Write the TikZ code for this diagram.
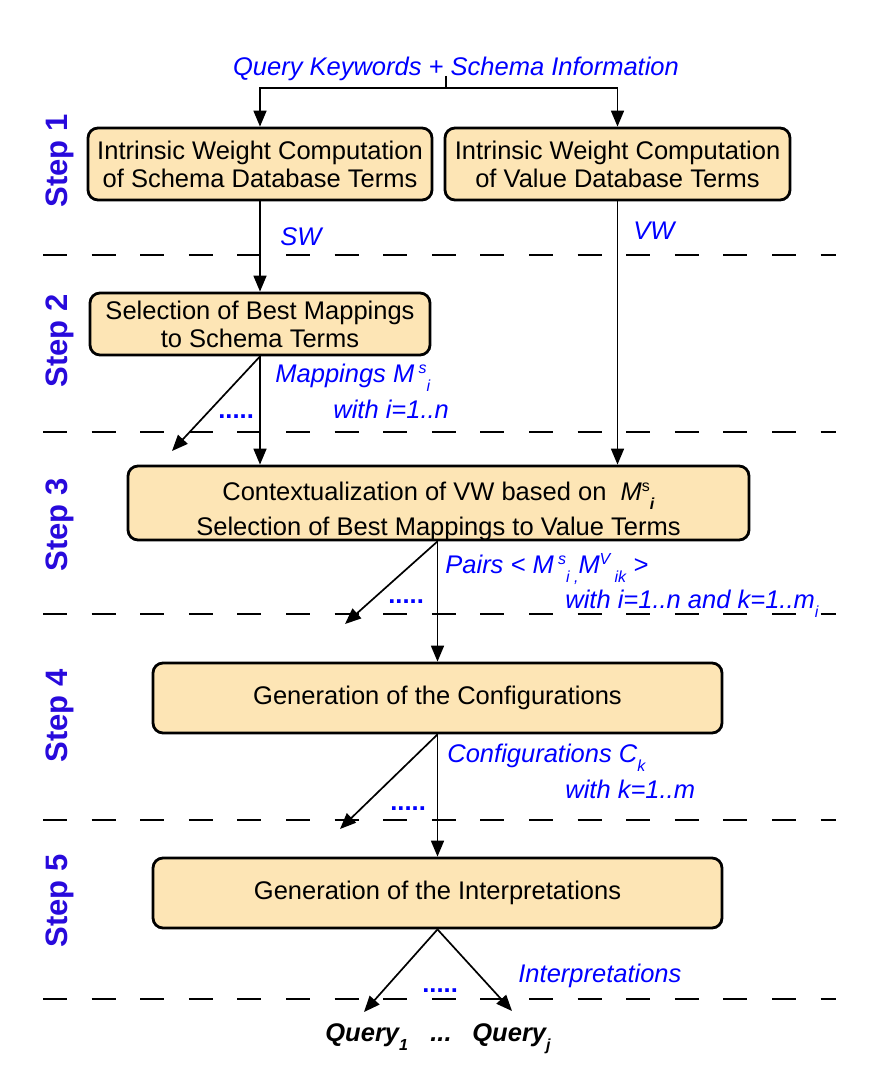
\documentclass[tikz,border=0pt]{standalone}
\usepackage{fontspec}
\setmainfont{Liberation Sans}
\usetikzlibrary{arrows.meta}
\definecolor{boxfill}{RGB}{253,229,181}
\definecolor{stepblue}{RGB}{40,10,220}
\definecolor{lblblue}{RGB}{0,0,255}
\newcommand{\mysb}[1]{\raisebox{-4.5pt}{\fontsize{8}{8}\selectfont #1}}
\newcommand{\mysp}[1]{\raisebox{4.5pt}{\fontsize{8}{8}\selectfont #1}}
\begin{document}
\begin{tikzpicture}[x=0.5pt,y=-0.5pt,
 box/.style={draw, line width=1.4pt, rounded corners=5pt, fill=boxfill, align=center, inner sep=0pt, font=\fontsize{12.75}{14}\selectfont},
 boxtext/.style={align=center, inner sep=0pt, font=\fontsize{12.75}{14}\selectfont},
 steplbl/.style={rotate=90, text=stepblue, font=\fontsize{15.5}{16}\selectfont\bfseries},
 lbl/.style={text=lblblue, font=\fontsize{12.75}{14}\selectfont\itshape, anchor=base west, inner sep=0pt},
 dotlbl/.style={text=lblblue, font=\fontsize{12.75}{14}\selectfont\bfseries, anchor=base west, inner sep=0pt},
 qlbl/.style={font=\fontsize{12.75}{14}\selectfont\bfseries\itshape, anchor=base west, inner sep=0pt},
 arr/.style={line width=0.85pt, -{Triangle[length=8pt,width=6.5pt]}},
 ln/.style={line width=0.85pt},
 sep/.style={line width=0.75pt, dash pattern=on 12pt off 12.3pt}]
\useasboundingbox (0,0) rectangle (875,1075);

% separators
\foreach \yy in {255,432,614,820,999} \draw[sep] (43,\yy) -- (836,\yy);

% step labels
\node[steplbl] (st1) at (60,161) {Step 1};
\node[steplbl] (st2) at (60,341) {Step 2};
\node[steplbl] (st3) at (60,525) {Step 3};
\node[steplbl] (st4) at (60,716) {Step 4};
\node[steplbl] (st5) at (60,901) {Step 5};

% boxes
\node[box, minimum width=172pt, minimum height=36pt] (b1) at (260,164) {Intrinsic Weight Computation\\of Schema Database Terms};
\node[box, minimum width=172.5pt, minimum height=36pt] (b2) at (617.5,164) {Intrinsic Weight Computation\\of Value Database Terms};
\node[box, minimum width=170pt, minimum height=31pt] (s2) at (260,324) {Selection of Best Mappings\\to Schema Terms};
\node[box, minimum width=310.5pt, minimum height=37pt] (s3) at (438.5,503) {};
\node[boxtext] (s3t) at (438.5,511) {Contextualization of VW based on \ \textit{M}\mysp{s}\mysb{\textbf{\textit{i}}}\\[3.5pt]Selection of Best Mappings to Value Terms};
\node[box, minimum width=284.5pt, minimum height=35pt] (s4) at (437.5,698) {Generation of the Configurations};
\node[box, minimum width=284.5pt, minimum height=35pt] (s5) at (437.5,893) {Generation of the Interpretations};

% top input
\node[lbl, anchor=base] (title) at (456,76) {Query Keywords + Schema Information};
\coordinate (qtop) at (446,76);
\coordinate (qj) at (446,88);
\draw[ln] (qtop) -- (qj);
\draw[arr] (qj) -| (b1.north);
\draw[arr] (qj) -| (b2.north);

% step 1 -> 2/3
\draw[arr] (b1.south) -- (s2.north);
\draw[arr] (b2.south) -- (b2.south |- s3.north);
\node[lbl] (lsw) at (280,245) {SW};
\node[lbl] (lvw) at (633,240) {VW};

% step 2 -> 3
\coordinate (d2) at (172,451);
\draw[arr] (s2.south) -- (s2.south |- s3.north);
\draw[arr] (s2.south) -- (d2);
\node[lbl] (lmap) at (275,382) {Mappings M\,\mysp{s}\mysb{i}};
\node[lbl] (lw2) at (333,418) {with i=1..n};
\node[dotlbl] (dt2) at (218,418) {.....};

% step 3 -> 4
\coordinate (s3b) at (s4.north |- s3.south);
\coordinate (d3) at (345,624);
\draw[arr] (s3b) -- (s4.north);
\draw[arr] (s3b) -- (d3);
\node[lbl] (lpairs) at (445,573) {Pairs < M\,\mysp{s}\mysb{i ,}M\mysp{V}\,\mysb{ik} >};
\node[lbl] (lw3) at (565,608) {with i=1..n and k=1..m\mysb{i}};
\node[dotlbl] (dt3) at (388,603) {.....};

% step 4 -> 5
\coordinate (d4) at (340,829);
\draw[arr] (s4.south) -- (s5.north);
\draw[arr] (s4.south) -- (d4);
\node[lbl] (lconf) at (447,762) {Configurations C\mysb{k}};
\node[lbl] (lw4) at (565,798) {with k=1..m};
\node[dotlbl] (dt4) at (390,810) {.....};

% step 5 -> queries
\coordinate (q1a) at (364,1012);
\coordinate (qja) at (512,1011);
\draw[arr] (s5.south) -- (q1a);
\draw[arr] (s5.south) -- (qja);
\node[lbl] (linterp) at (518,982) {Interpretations};
\node[dotlbl] (dt5) at (422,992) {.....};
\node[qlbl] (qy1) at (325,1041) {Query\mysb{1}};
\node[qlbl] (qdots) at (430,1041) {...};
\node[qlbl] (qyj) at (472,1041) {Query\mysb{j}};
\end{tikzpicture}
\end{document}
